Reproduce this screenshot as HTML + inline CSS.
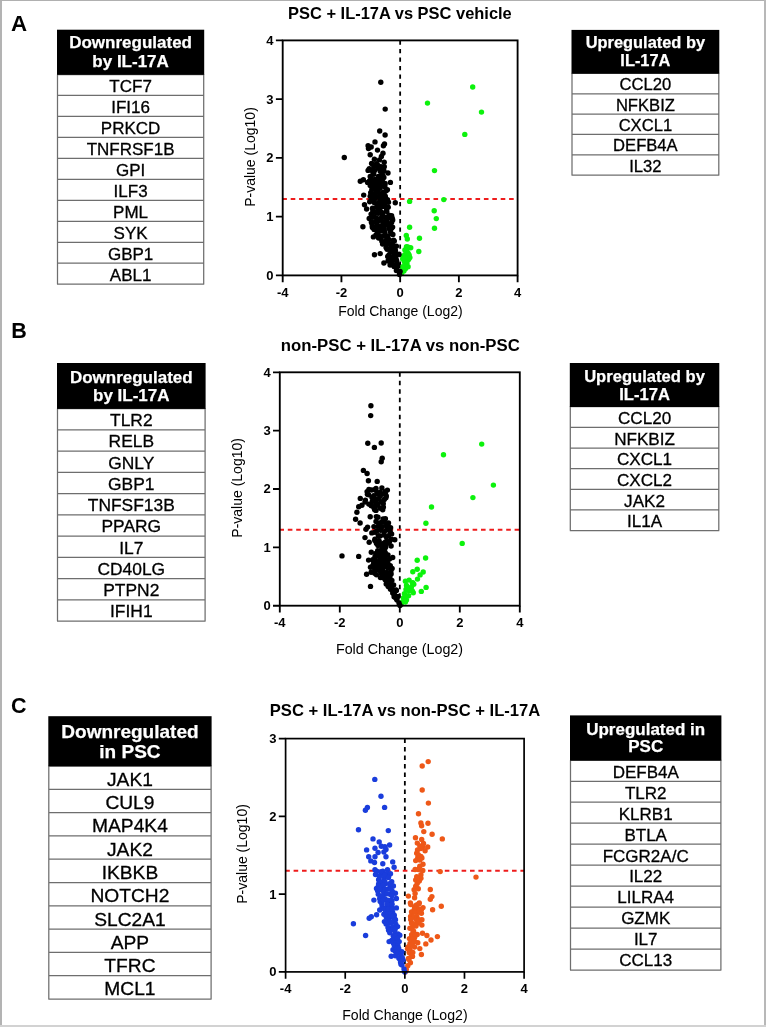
<!DOCTYPE html>
<html><head><meta charset="utf-8"><style>
html,body{margin:0;padding:0;background:#fff;}
svg{display:block;filter:blur(0.35px);}
text{font-family:"Liberation Sans", sans-serif;}
.t{stroke:#000;stroke-width:0.3px;}
.w{stroke:#fff;stroke-width:0.25px;}
</style></head><body>
<svg width="766" height="1027" viewBox="0 0 766 1027" font-family='"Liberation Sans", sans-serif'>
<rect x="0" y="0" width="766" height="1027" fill="#ffffff"/>
<rect x="0" y="0" width="2" height="1027" fill="#b3b3b3"/>
<rect x="0" y="0" width="766" height="1" fill="#b0b0b0"/>
<rect x="764" y="0" width="2" height="1027" fill="#b8b8b8"/>
<rect x="0" y="1025" width="766" height="2" fill="#d2d2d2"/>
<text x="10.9" y="30.6" font-size="22.3" font-weight="bold">A</text>
<text x="11.2" y="338.4" font-size="21.5" font-weight="bold">B</text>
<text x="11.0" y="712.6" font-size="21.5" font-weight="bold">C</text>
<path d="M57.0 74.50H204.2 M57.0 95.47H204.2 M57.0 116.44H204.2 M57.0 137.41H204.2 M57.0 158.38H204.2 M57.0 179.35H204.2 M57.0 200.32H204.2 M57.0 221.29H204.2 M57.0 242.26H204.2 M57.0 263.23H204.2 M57.0 284.20H204.2 M57.5 74.5V284.20M203.7 74.5V284.20" stroke="#6e6e6e" stroke-width="1.25" fill="none"/>
<rect x="57.0" y="29.7" width="147.2" height="45.10" fill="#000"/>
<text x="130.6" y="48.3" font-size="17" font-weight="bold" fill="#fff" class="w" text-anchor="middle">Downregulated</text>
<text x="130.6" y="67.0" font-size="17" font-weight="bold" fill="#fff" class="w" text-anchor="middle">by IL-17A</text>
<text class="t" x="130.6" y="91.83" font-size="17" text-anchor="middle">TCF7</text>
<text class="t" x="130.6" y="112.80" font-size="17" text-anchor="middle">IFI16</text>
<text class="t" x="130.6" y="133.77" font-size="17" text-anchor="middle">PRKCD</text>
<text class="t" x="130.6" y="154.74" font-size="17" text-anchor="middle">TNFRSF1B</text>
<text class="t" x="130.6" y="175.71" font-size="17" text-anchor="middle">GPI</text>
<text class="t" x="130.6" y="196.68" font-size="17" text-anchor="middle">ILF3</text>
<text class="t" x="130.6" y="217.65" font-size="17" text-anchor="middle">PML</text>
<text class="t" x="130.6" y="238.62" font-size="17" text-anchor="middle">SYK</text>
<text class="t" x="130.6" y="259.59" font-size="17" text-anchor="middle">GBP1</text>
<text class="t" x="130.6" y="280.56" font-size="17" text-anchor="middle">ABL1</text>
<path d="M571.5 73.40H719.3 M571.5 93.75H719.3 M571.5 114.10H719.3 M571.5 134.45H719.3 M571.5 154.80H719.3 M571.5 175.15H719.3 M572.0 73.4V175.15M718.8 73.4V175.15" stroke="#6e6e6e" stroke-width="1.25" fill="none"/>
<rect x="571.5" y="29.9" width="147.79999999999995" height="43.80" fill="#000"/>
<text x="645.4" y="47.5" font-size="16.4" font-weight="bold" fill="#fff" class="w" text-anchor="middle">Upregulated by</text>
<text x="645.4" y="66.0" font-size="16.4" font-weight="bold" fill="#fff" class="w" text-anchor="middle">IL-17A</text>
<text class="t" x="645.4" y="90.29" font-size="16.6" text-anchor="middle">CCL20</text>
<text class="t" x="645.4" y="110.64" font-size="16.6" text-anchor="middle">NFKBIZ</text>
<text class="t" x="645.4" y="130.99" font-size="16.6" text-anchor="middle">CXCL1</text>
<text class="t" x="645.4" y="151.34" font-size="16.6" text-anchor="middle">DEFB4A</text>
<text class="t" x="645.4" y="171.69" font-size="16.6" text-anchor="middle">IL32</text>
<path d="M57.0 408.60H205.6 M57.0 429.84H205.6 M57.0 451.08H205.6 M57.0 472.32H205.6 M57.0 493.56H205.6 M57.0 514.80H205.6 M57.0 536.04H205.6 M57.0 557.28H205.6 M57.0 578.52H205.6 M57.0 599.76H205.6 M57.0 621.00H205.6 M57.5 408.6V621.00M205.1 408.6V621.00" stroke="#6e6e6e" stroke-width="1.25" fill="none"/>
<rect x="57.0" y="363.0" width="148.6" height="45.90" fill="#000"/>
<text x="131.3" y="382.7" font-size="17" font-weight="bold" fill="#fff" class="w" text-anchor="middle">Downregulated</text>
<text x="131.3" y="400.9" font-size="17" font-weight="bold" fill="#fff" class="w" text-anchor="middle">by IL-17A</text>
<text class="t" x="131.3" y="426.21" font-size="17.4" text-anchor="middle">TLR2</text>
<text class="t" x="131.3" y="447.45" font-size="17.4" text-anchor="middle">RELB</text>
<text class="t" x="131.3" y="468.69" font-size="17.4" text-anchor="middle">GNLY</text>
<text class="t" x="131.3" y="489.93" font-size="17.4" text-anchor="middle">GBP1</text>
<text class="t" x="131.3" y="511.17" font-size="17.4" text-anchor="middle">TNFSF13B</text>
<text class="t" x="131.3" y="532.41" font-size="17.4" text-anchor="middle">PPARG</text>
<text class="t" x="131.3" y="553.65" font-size="17.4" text-anchor="middle">IL7</text>
<text class="t" x="131.3" y="574.89" font-size="17.4" text-anchor="middle">CD40LG</text>
<text class="t" x="131.3" y="596.13" font-size="17.4" text-anchor="middle">PTPN2</text>
<text class="t" x="131.3" y="617.37" font-size="17.4" text-anchor="middle">IFIH1</text>
<path d="M569.8 406.70H719.3 M569.8 427.35H719.3 M569.8 448.00H719.3 M569.8 468.65H719.3 M569.8 489.30H719.3 M569.8 509.95H719.3 M569.8 530.60H719.3 M570.3 406.7V530.60M718.8 406.7V530.60" stroke="#6e6e6e" stroke-width="1.25" fill="none"/>
<rect x="569.8" y="363.0" width="149.5" height="44.00" fill="#000"/>
<text x="644.55" y="381.5" font-size="16.6" font-weight="bold" fill="#fff" class="w" text-anchor="middle">Upregulated by</text>
<text x="644.55" y="400.0" font-size="16.6" font-weight="bold" fill="#fff" class="w" text-anchor="middle">IL-17A</text>
<text class="t" x="644.55" y="423.91" font-size="17.1" text-anchor="middle">CCL20</text>
<text class="t" x="644.55" y="444.56" font-size="17.1" text-anchor="middle">NFKBIZ</text>
<text class="t" x="644.55" y="465.21" font-size="17.1" text-anchor="middle">CXCL1</text>
<text class="t" x="644.55" y="485.86" font-size="17.1" text-anchor="middle">CXCL2</text>
<text class="t" x="644.55" y="506.51" font-size="17.1" text-anchor="middle">JAK2</text>
<text class="t" x="644.55" y="527.16" font-size="17.1" text-anchor="middle">IL1A</text>
<path d="M48.3 766.00H211.6 M48.3 789.30H211.6 M48.3 812.60H211.6 M48.3 835.90H211.6 M48.3 859.20H211.6 M48.3 882.50H211.6 M48.3 905.80H211.6 M48.3 929.10H211.6 M48.3 952.40H211.6 M48.3 975.70H211.6 M48.3 999.00H211.6 M48.8 766.0V999.00M211.1 766.0V999.00" stroke="#6e6e6e" stroke-width="1.25" fill="none"/>
<rect x="48.3" y="716.2" width="163.3" height="50.10" fill="#000"/>
<text x="129.95" y="737.6" font-size="19" font-weight="bold" fill="#fff" class="w" text-anchor="middle">Downregulated</text>
<text x="129.95" y="758.0" font-size="19" font-weight="bold" fill="#fff" class="w" text-anchor="middle">in PSC</text>
<text class="t" x="129.95" y="785.75" font-size="19.2" text-anchor="middle">JAK1</text>
<text class="t" x="129.95" y="809.05" font-size="19.2" text-anchor="middle">CUL9</text>
<text class="t" x="129.95" y="832.35" font-size="19.2" text-anchor="middle">MAP4K4</text>
<text class="t" x="129.95" y="855.65" font-size="19.2" text-anchor="middle">JAK2</text>
<text class="t" x="129.95" y="878.95" font-size="19.2" text-anchor="middle">IKBKB</text>
<text class="t" x="129.95" y="902.25" font-size="19.2" text-anchor="middle">NOTCH2</text>
<text class="t" x="129.95" y="925.55" font-size="19.2" text-anchor="middle">SLC2A1</text>
<text class="t" x="129.95" y="948.85" font-size="19.2" text-anchor="middle">APP</text>
<text class="t" x="129.95" y="972.15" font-size="19.2" text-anchor="middle">TFRC</text>
<text class="t" x="129.95" y="995.45" font-size="19.2" text-anchor="middle">MCL1</text>
<path d="M570.0 760.30H721.4 M570.0 781.27H721.4 M570.0 802.24H721.4 M570.0 823.21H721.4 M570.0 844.18H721.4 M570.0 865.15H721.4 M570.0 886.12H721.4 M570.0 907.09H721.4 M570.0 928.06H721.4 M570.0 949.03H721.4 M570.0 970.00H721.4 M570.5 760.3V970.00M720.9 760.3V970.00" stroke="#6e6e6e" stroke-width="1.25" fill="none"/>
<rect x="570.0" y="715.4" width="151.39999999999998" height="45.20" fill="#000"/>
<text x="645.7" y="734.5" font-size="17" font-weight="bold" fill="#fff" class="w" text-anchor="middle">Upregulated in</text>
<text x="645.7" y="752.0" font-size="17" font-weight="bold" fill="#fff" class="w" text-anchor="middle">PSC</text>
<text class="t" x="645.7" y="777.63" font-size="17" text-anchor="middle">DEFB4A</text>
<text class="t" x="645.7" y="798.60" font-size="17" text-anchor="middle">TLR2</text>
<text class="t" x="645.7" y="819.57" font-size="17" text-anchor="middle">KLRB1</text>
<text class="t" x="645.7" y="840.54" font-size="17" text-anchor="middle">BTLA</text>
<text class="t" x="645.7" y="861.51" font-size="17" text-anchor="middle">FCGR2A/C</text>
<text class="t" x="645.7" y="882.48" font-size="17" text-anchor="middle">IL22</text>
<text class="t" x="645.7" y="903.45" font-size="17" text-anchor="middle">LILRA4</text>
<text class="t" x="645.7" y="924.42" font-size="17" text-anchor="middle">GZMK</text>
<text class="t" x="645.7" y="945.39" font-size="17" text-anchor="middle">IL7</text>
<text class="t" x="645.7" y="966.36" font-size="17" text-anchor="middle">CCL13</text>
<path d="M400.15 40.4V275.4" stroke="#000" stroke-width="1.8" stroke-dasharray="4.4 4.1" fill="none"/>
<path d="M282.7 199.02H517.6" stroke="#ee1c1c" stroke-width="2" stroke-dasharray="4.6 3.8" stroke-dashoffset="0.4" fill="none"/>
<g fill="#0cf20c"><circle cx="472.7" cy="87.0" r="2.7"/><circle cx="481.5" cy="112.1" r="2.7"/><circle cx="464.8" cy="134.4" r="2.7"/><circle cx="427.5" cy="103.1" r="2.7"/><circle cx="434.5" cy="170.6" r="2.7"/><circle cx="409.6" cy="201.4" r="2.7"/><circle cx="443.8" cy="199.6" r="2.7"/><circle cx="434.2" cy="210.8" r="2.7"/><circle cx="436.3" cy="218.6" r="2.7"/><circle cx="434.5" cy="228.2" r="2.7"/><circle cx="409.6" cy="227.2" r="2.7"/><circle cx="406.3" cy="235.4" r="2.7"/><circle cx="407.3" cy="239.0" r="2.7"/><circle cx="419.5" cy="238.2" r="2.7"/><circle cx="418.8" cy="251.5" r="2.7"/><circle cx="406.5" cy="246.8" r="2.7"/><circle cx="410.7" cy="247.7" r="2.7"/><circle cx="404.9" cy="250.0" r="2.7"/><circle cx="408.1" cy="253.1" r="2.7"/><circle cx="403.4" cy="256.2" r="2.7"/><circle cx="408.6" cy="259.4" r="2.7"/><circle cx="404.4" cy="261.5" r="2.7"/><circle cx="408.1" cy="266.7" r="2.7"/><circle cx="402.8" cy="266.7" r="2.7"/><circle cx="403.9" cy="270.9" r="2.7"/><circle cx="401.8" cy="273.0" r="2.7"/><circle cx="405.4" cy="268.8" r="2.7"/><circle cx="406.8" cy="250.5" r="2.7"/><circle cx="404.8" cy="254.7" r="2.7"/><circle cx="408.9" cy="254.7" r="2.7"/><circle cx="402.7" cy="258.9" r="2.7"/><circle cx="407.8" cy="247.0" r="2.7"/><circle cx="405.9" cy="250.2" r="2.7"/><circle cx="409.0" cy="255.5" r="2.7"/><circle cx="404.6" cy="258.1" r="2.7"/><circle cx="409.9" cy="257.6" r="2.7"/><circle cx="404.7" cy="261.9" r="2.7"/><circle cx="407.0" cy="262.9" r="2.7"/><circle cx="405.6" cy="265.9" r="2.7"/><circle cx="402.8" cy="268.3" r="2.7"/></g>
<g fill="#000000"><circle cx="380.8" cy="82.3" r="2.7"/><circle cx="385.2" cy="109.1" r="2.7"/><circle cx="379.7" cy="131.0" r="2.7"/><circle cx="385.1" cy="135.0" r="2.7"/><circle cx="375.0" cy="141.9" r="2.7"/><circle cx="368.1" cy="145.8" r="2.7"/><circle cx="371.2" cy="147.0" r="2.7"/><circle cx="368.5" cy="148.6" r="2.7"/><circle cx="384.5" cy="143.9" r="2.7"/><circle cx="383.4" cy="145.8" r="2.7"/><circle cx="377.5" cy="150.1" r="2.7"/><circle cx="370.2" cy="154.8" r="2.7"/><circle cx="383.0" cy="153.3" r="2.7"/><circle cx="381.4" cy="156.4" r="2.7"/><circle cx="374.4" cy="159.2" r="2.7"/><circle cx="379.5" cy="159.9" r="2.7"/><circle cx="384.2" cy="162.3" r="2.7"/><circle cx="371.6" cy="163.5" r="2.7"/><circle cx="344.3" cy="157.5" r="2.7"/><circle cx="376.5" cy="163.6" r="2.7"/><circle cx="384.3" cy="166.7" r="2.7"/><circle cx="368.1" cy="170.4" r="2.7"/><circle cx="372.8" cy="171.9" r="2.7"/><circle cx="380.1" cy="170.9" r="2.7"/><circle cx="388.0" cy="173.0" r="2.7"/><circle cx="381.2" cy="176.1" r="2.7"/><circle cx="360.3" cy="181.3" r="2.7"/><circle cx="363.4" cy="179.8" r="2.7"/><circle cx="367.6" cy="182.4" r="2.7"/><circle cx="371.8" cy="180.8" r="2.7"/><circle cx="382.2" cy="180.3" r="2.7"/><circle cx="390.4" cy="182.4" r="2.7"/><circle cx="370.2" cy="185.5" r="2.7"/><circle cx="376.0" cy="184.5" r="2.7"/><circle cx="380.1" cy="185.5" r="2.7"/><circle cx="384.3" cy="186.6" r="2.7"/><circle cx="371.8" cy="189.7" r="2.7"/><circle cx="378.0" cy="189.7" r="2.7"/><circle cx="387.4" cy="189.7" r="2.7"/><circle cx="374.9" cy="193.9" r="2.7"/><circle cx="382.2" cy="193.9" r="2.7"/><circle cx="363.7" cy="195.1" r="2.7"/><circle cx="372.8" cy="198.0" r="2.7"/><circle cx="378.0" cy="197.0" r="2.7"/><circle cx="385.4" cy="197.0" r="2.7"/><circle cx="369.7" cy="201.7" r="2.7"/><circle cx="379.1" cy="202.2" r="2.7"/><circle cx="383.3" cy="200.1" r="2.7"/><circle cx="388.5" cy="202.2" r="2.7"/><circle cx="395.3" cy="202.7" r="2.7"/><circle cx="364.5" cy="204.8" r="2.7"/><circle cx="366.6" cy="209.0" r="2.7"/><circle cx="380.1" cy="206.4" r="2.7"/><circle cx="385.4" cy="206.4" r="2.7"/><circle cx="379.1" cy="210.6" r="2.7"/><circle cx="386.4" cy="210.6" r="2.7"/><circle cx="372.8" cy="212.1" r="2.7"/><circle cx="382.2" cy="213.7" r="2.7"/><circle cx="391.6" cy="215.8" r="2.7"/><circle cx="369.2" cy="218.4" r="2.7"/><circle cx="373.9" cy="216.8" r="2.7"/><circle cx="380.1" cy="218.9" r="2.7"/><circle cx="386.4" cy="217.9" r="2.7"/><circle cx="392.7" cy="220.0" r="2.7"/><circle cx="371.8" cy="223.1" r="2.7"/><circle cx="377.0" cy="223.1" r="2.7"/><circle cx="383.3" cy="223.1" r="2.7"/><circle cx="389.5" cy="224.2" r="2.7"/><circle cx="362.9" cy="226.8" r="2.7"/><circle cx="374.9" cy="227.3" r="2.7"/><circle cx="382.2" cy="227.8" r="2.7"/><circle cx="391.6" cy="228.3" r="2.7"/><circle cx="381.8" cy="217.1" r="2.7"/><circle cx="388.0" cy="217.1" r="2.7"/><circle cx="392.2" cy="218.1" r="2.7"/><circle cx="377.6" cy="231.2" r="2.7"/><circle cx="383.9" cy="228.6" r="2.7"/><circle cx="390.1" cy="229.6" r="2.7"/><circle cx="373.4" cy="236.9" r="2.7"/><circle cx="378.6" cy="238.0" r="2.7"/><circle cx="384.9" cy="235.9" r="2.7"/><circle cx="391.2" cy="233.8" r="2.7"/><circle cx="381.8" cy="241.1" r="2.7"/><circle cx="388.0" cy="240.1" r="2.7"/><circle cx="394.3" cy="241.1" r="2.7"/><circle cx="386.0" cy="244.2" r="2.7"/><circle cx="392.2" cy="245.3" r="2.7"/><circle cx="396.4" cy="246.3" r="2.7"/><circle cx="390.1" cy="249.5" r="2.7"/><circle cx="395.4" cy="250.5" r="2.7"/><circle cx="389.1" cy="254.7" r="2.7"/><circle cx="394.3" cy="254.7" r="2.7"/><circle cx="399.0" cy="254.2" r="2.7"/><circle cx="383.9" cy="263.0" r="2.7"/><circle cx="388.0" cy="261.0" r="2.7"/><circle cx="392.2" cy="258.9" r="2.7"/><circle cx="396.4" cy="259.9" r="2.7"/><circle cx="390.1" cy="265.1" r="2.7"/><circle cx="394.3" cy="266.2" r="2.7"/><circle cx="397.4" cy="264.1" r="2.7"/><circle cx="396.9" cy="270.4" r="2.7"/><circle cx="400.1" cy="271.4" r="2.7"/><circle cx="399.5" cy="274.5" r="2.7"/><circle cx="392.2" cy="263.0" r="2.7"/><circle cx="374.5" cy="254.7" r="2.7"/><circle cx="380.2" cy="253.6" r="2.7"/><circle cx="378.1" cy="165.4" r="2.7"/><circle cx="369.3" cy="168.7" r="2.7"/><circle cx="373.8" cy="166.8" r="2.7"/><circle cx="378.2" cy="168.3" r="2.7"/><circle cx="381.0" cy="166.7" r="2.7"/><circle cx="372.4" cy="170.5" r="2.7"/><circle cx="374.4" cy="170.8" r="2.7"/><circle cx="380.8" cy="171.4" r="2.7"/><circle cx="384.0" cy="171.0" r="2.7"/><circle cx="370.2" cy="176.5" r="2.7"/><circle cx="373.8" cy="174.2" r="2.7"/><circle cx="378.5" cy="176.5" r="2.7"/><circle cx="382.7" cy="175.3" r="2.7"/><circle cx="371.0" cy="177.7" r="2.7"/><circle cx="374.8" cy="179.5" r="2.7"/><circle cx="380.5" cy="177.4" r="2.7"/><circle cx="383.9" cy="177.4" r="2.7"/><circle cx="369.5" cy="180.9" r="2.7"/><circle cx="372.5" cy="182.0" r="2.7"/><circle cx="377.8" cy="181.3" r="2.7"/><circle cx="380.3" cy="183.3" r="2.7"/><circle cx="385.1" cy="183.5" r="2.7"/><circle cx="372.5" cy="185.8" r="2.7"/><circle cx="375.2" cy="186.4" r="2.7"/><circle cx="378.8" cy="185.2" r="2.7"/><circle cx="384.9" cy="185.9" r="2.7"/><circle cx="373.9" cy="188.9" r="2.7"/><circle cx="378.0" cy="190.0" r="2.7"/><circle cx="380.2" cy="188.1" r="2.7"/><circle cx="386.1" cy="190.7" r="2.7"/><circle cx="370.7" cy="192.6" r="2.7"/><circle cx="376.2" cy="191.6" r="2.7"/><circle cx="379.7" cy="193.6" r="2.7"/><circle cx="383.1" cy="192.1" r="2.7"/><circle cx="370.2" cy="196.3" r="2.7"/><circle cx="374.3" cy="195.5" r="2.7"/><circle cx="377.0" cy="196.9" r="2.7"/><circle cx="382.6" cy="196.3" r="2.7"/><circle cx="384.9" cy="195.4" r="2.7"/><circle cx="372.2" cy="199.6" r="2.7"/><circle cx="374.4" cy="199.4" r="2.7"/><circle cx="380.3" cy="199.4" r="2.7"/><circle cx="383.2" cy="199.8" r="2.7"/><circle cx="387.5" cy="199.8" r="2.7"/><circle cx="374.5" cy="202.8" r="2.7"/><circle cx="378.1" cy="204.5" r="2.7"/><circle cx="382.0" cy="203.6" r="2.7"/><circle cx="385.1" cy="203.1" r="2.7"/><circle cx="372.5" cy="208.2" r="2.7"/><circle cx="376.5" cy="207.3" r="2.7"/><circle cx="378.1" cy="207.8" r="2.7"/><circle cx="382.7" cy="206.5" r="2.7"/><circle cx="388.2" cy="207.2" r="2.7"/><circle cx="372.9" cy="209.8" r="2.7"/><circle cx="377.5" cy="211.5" r="2.7"/><circle cx="380.6" cy="211.5" r="2.7"/><circle cx="386.8" cy="211.5" r="2.7"/><circle cx="371.1" cy="214.1" r="2.7"/><circle cx="376.2" cy="212.8" r="2.7"/><circle cx="378.3" cy="213.2" r="2.7"/><circle cx="382.5" cy="213.0" r="2.7"/><circle cx="389.0" cy="215.2" r="2.7"/><circle cx="372.5" cy="217.3" r="2.7"/><circle cx="376.4" cy="217.9" r="2.7"/><circle cx="382.2" cy="217.4" r="2.7"/><circle cx="384.5" cy="216.9" r="2.7"/><circle cx="389.4" cy="218.1" r="2.7"/><circle cx="371.3" cy="221.9" r="2.7"/><circle cx="375.2" cy="221.9" r="2.7"/><circle cx="379.4" cy="220.6" r="2.7"/><circle cx="383.7" cy="221.9" r="2.7"/><circle cx="386.5" cy="221.1" r="2.7"/><circle cx="391.6" cy="222.4" r="2.7"/><circle cx="372.3" cy="225.7" r="2.7"/><circle cx="377.9" cy="225.9" r="2.7"/><circle cx="382.4" cy="225.3" r="2.7"/><circle cx="386.3" cy="225.0" r="2.7"/><circle cx="388.6" cy="225.1" r="2.7"/><circle cx="372.4" cy="227.5" r="2.7"/><circle cx="374.1" cy="229.4" r="2.7"/><circle cx="378.4" cy="229.4" r="2.7"/><circle cx="384.1" cy="229.4" r="2.7"/><circle cx="389.0" cy="228.6" r="2.7"/><circle cx="392.6" cy="227.1" r="2.7"/><circle cx="377.6" cy="232.9" r="2.7"/><circle cx="380.8" cy="231.1" r="2.7"/><circle cx="384.9" cy="232.3" r="2.7"/><circle cx="390.5" cy="231.7" r="2.7"/><circle cx="376.1" cy="234.6" r="2.7"/><circle cx="380.0" cy="236.2" r="2.7"/><circle cx="384.1" cy="235.6" r="2.7"/><circle cx="387.7" cy="235.9" r="2.7"/><circle cx="392.9" cy="234.5" r="2.7"/><circle cx="381.0" cy="238.3" r="2.7"/><circle cx="386.2" cy="240.3" r="2.7"/><circle cx="389.2" cy="239.6" r="2.7"/><circle cx="393.6" cy="240.1" r="2.7"/><circle cx="382.6" cy="244.0" r="2.7"/><circle cx="387.6" cy="242.9" r="2.7"/><circle cx="391.7" cy="243.6" r="2.7"/><circle cx="386.1" cy="247.4" r="2.7"/><circle cx="390.7" cy="245.4" r="2.7"/><circle cx="393.0" cy="245.5" r="2.7"/><circle cx="387.1" cy="249.3" r="2.7"/><circle cx="392.0" cy="250.2" r="2.7"/><circle cx="394.5" cy="249.3" r="2.7"/><circle cx="390.9" cy="252.1" r="2.7"/><circle cx="395.1" cy="252.9" r="2.7"/><circle cx="387.7" cy="256.4" r="2.7"/><circle cx="392.4" cy="257.3" r="2.7"/><circle cx="396.1" cy="255.9" r="2.7"/><circle cx="390.2" cy="260.2" r="2.7"/><circle cx="393.3" cy="259.5" r="2.7"/><circle cx="396.7" cy="261.0" r="2.7"/><circle cx="391.3" cy="263.6" r="2.7"/><circle cx="396.0" cy="264.7" r="2.7"/><circle cx="394.1" cy="266.5" r="2.7"/><circle cx="397.7" cy="266.6" r="2.7"/><circle cx="396.4" cy="270.5" r="2.7"/></g>
<rect x="282.7" y="40.4" width="234.90000000000003" height="234.99999999999997" fill="none" stroke="#000" stroke-width="1.85"/>
<path d="M282.70 275.4v6.8 M341.43 275.4v6.8 M400.15 275.4v6.8 M458.88 275.4v6.8 M517.60 275.4v6.8 M282.7 275.40h-6.8 M282.7 216.65h-6.8 M282.7 157.90h-6.8 M282.7 99.15h-6.8 M282.7 40.40h-6.8" stroke="#000" stroke-width="1.85" fill="none"/>
<text x="282.70" y="296.60" font-size="13" font-weight="bold" text-anchor="middle">-4</text>
<text x="341.43" y="296.60" font-size="13" font-weight="bold" text-anchor="middle">-2</text>
<text x="400.15" y="296.60" font-size="13" font-weight="bold" text-anchor="middle">0</text>
<text x="458.88" y="296.60" font-size="13" font-weight="bold" text-anchor="middle">2</text>
<text x="517.60" y="296.60" font-size="13" font-weight="bold" text-anchor="middle">4</text>
<text x="273.60" y="279.80" font-size="13" font-weight="bold" text-anchor="end">0</text>
<text x="273.60" y="221.05" font-size="13" font-weight="bold" text-anchor="end">1</text>
<text x="273.60" y="162.30" font-size="13" font-weight="bold" text-anchor="end">2</text>
<text x="273.60" y="103.55" font-size="13" font-weight="bold" text-anchor="end">3</text>
<text x="273.60" y="44.80" font-size="13" font-weight="bold" text-anchor="end">4</text>
<text x="400.40" y="316.40" font-size="14" text-anchor="middle">Fold Change (Log2)</text>
<text transform="translate(255.00 157.00) rotate(-90)" font-size="14" text-anchor="middle">P-value (Log10)</text>
<text x="399.9" y="18.5" font-size="16.45" font-weight="bold" text-anchor="middle">PSC + IL-17A vs PSC vehicle</text>
<path d="M399.80 372.3V605.7" stroke="#000" stroke-width="1.8" stroke-dasharray="4.4 4.1" fill="none"/>
<path d="M279.8 529.85H519.8" stroke="#ee1c1c" stroke-width="2" stroke-dasharray="4.6 3.8" stroke-dashoffset="0.4" fill="none"/>
<g fill="#0cf20c"><circle cx="462.2" cy="543.4" r="2.7"/><circle cx="425.6" cy="558.0" r="2.7"/><circle cx="417.2" cy="560.3" r="2.7"/><circle cx="417.2" cy="569.2" r="2.7"/><circle cx="412.8" cy="571.8" r="2.7"/><circle cx="423.2" cy="572.0" r="2.7"/><circle cx="420.1" cy="574.9" r="2.7"/><circle cx="417.5" cy="579.1" r="2.7"/><circle cx="405.4" cy="581.2" r="2.7"/><circle cx="409.1" cy="580.1" r="2.7"/><circle cx="412.8" cy="582.7" r="2.7"/><circle cx="413.8" cy="584.3" r="2.7"/><circle cx="426.1" cy="587.4" r="2.7"/><circle cx="421.3" cy="591.4" r="2.7"/><circle cx="406.0" cy="589.5" r="2.7"/><circle cx="409.6" cy="590.6" r="2.7"/><circle cx="413.3" cy="592.7" r="2.7"/><circle cx="404.4" cy="593.7" r="2.7"/><circle cx="408.6" cy="595.8" r="2.7"/><circle cx="403.4" cy="597.9" r="2.7"/><circle cx="406.5" cy="600.0" r="2.7"/><circle cx="402.3" cy="602.1" r="2.7"/><circle cx="405.4" cy="602.1" r="2.7"/><circle cx="401.3" cy="604.2" r="2.7"/><circle cx="410.7" cy="588.5" r="2.7"/><circle cx="406.5" cy="585.4" r="2.7"/><circle cx="481.7" cy="444.1" r="2.7"/><circle cx="443.5" cy="454.8" r="2.7"/><circle cx="493.4" cy="485.1" r="2.7"/><circle cx="472.9" cy="497.6" r="2.7"/><circle cx="431.5" cy="507.0" r="2.7"/><circle cx="425.9" cy="523.3" r="2.7"/><circle cx="412.4" cy="583.1" r="2.7"/><circle cx="407.3" cy="587.9" r="2.7"/><circle cx="411.4" cy="587.0" r="2.7"/><circle cx="407.7" cy="590.3" r="2.7"/><circle cx="412.3" cy="590.9" r="2.7"/><circle cx="406.0" cy="595.7" r="2.7"/><circle cx="404.8" cy="600.9" r="2.7"/></g>
<g fill="#000000"><circle cx="370.9" cy="405.8" r="2.7"/><circle cx="370.7" cy="415.6" r="2.7"/><circle cx="367.8" cy="443.3" r="2.7"/><circle cx="374.4" cy="447.4" r="2.7"/><circle cx="381.2" cy="443.0" r="2.7"/><circle cx="382.2" cy="458.2" r="2.7"/><circle cx="381.2" cy="461.8" r="2.7"/><circle cx="363.4" cy="470.4" r="2.7"/><circle cx="367.1" cy="473.5" r="2.7"/><circle cx="368.4" cy="480.7" r="2.7"/><circle cx="377.2" cy="481.4" r="2.7"/><circle cx="368.9" cy="489.5" r="2.7"/><circle cx="367.1" cy="491.6" r="2.7"/><circle cx="368.6" cy="494.8" r="2.7"/><circle cx="376.0" cy="488.5" r="2.7"/><circle cx="381.9" cy="488.0" r="2.7"/><circle cx="387.4" cy="490.1" r="2.7"/><circle cx="385.4" cy="493.7" r="2.7"/><circle cx="377.0" cy="492.7" r="2.7"/><circle cx="380.1" cy="496.3" r="2.7"/><circle cx="384.3" cy="499.5" r="2.7"/><circle cx="375.4" cy="498.9" r="2.7"/><circle cx="360.3" cy="498.4" r="2.7"/><circle cx="365.0" cy="502.1" r="2.7"/><circle cx="361.9" cy="505.2" r="2.7"/><circle cx="358.7" cy="506.8" r="2.7"/><circle cx="371.3" cy="505.2" r="2.7"/><circle cx="373.9" cy="507.8" r="2.7"/><circle cx="378.0" cy="504.7" r="2.7"/><circle cx="383.3" cy="503.6" r="2.7"/><circle cx="376.0" cy="510.4" r="2.7"/><circle cx="382.7" cy="509.7" r="2.7"/><circle cx="356.9" cy="512.2" r="2.7"/><circle cx="370.2" cy="516.7" r="2.7"/><circle cx="378.0" cy="517.2" r="2.7"/><circle cx="385.4" cy="518.8" r="2.7"/><circle cx="355.6" cy="519.3" r="2.7"/><circle cx="360.1" cy="523.0" r="2.7"/><circle cx="376.0" cy="521.4" r="2.7"/><circle cx="382.2" cy="521.9" r="2.7"/><circle cx="388.5" cy="523.0" r="2.7"/><circle cx="367.6" cy="527.1" r="2.7"/><circle cx="373.9" cy="526.6" r="2.7"/><circle cx="379.1" cy="525.6" r="2.7"/><circle cx="386.4" cy="526.1" r="2.7"/><circle cx="390.6" cy="527.7" r="2.7"/><circle cx="366.0" cy="529.2" r="2.7"/><circle cx="371.8" cy="532.9" r="2.7"/><circle cx="377.0" cy="530.8" r="2.7"/><circle cx="384.3" cy="531.8" r="2.7"/><circle cx="391.6" cy="533.9" r="2.7"/><circle cx="380.1" cy="536.0" r="2.7"/><circle cx="386.4" cy="537.1" r="2.7"/><circle cx="365.0" cy="537.6" r="2.7"/><circle cx="374.9" cy="539.2" r="2.7"/><circle cx="394.8" cy="539.7" r="2.7"/><circle cx="369.2" cy="542.3" r="2.7"/><circle cx="379.1" cy="541.2" r="2.7"/><circle cx="389.5" cy="541.8" r="2.7"/><circle cx="384.3" cy="544.4" r="2.7"/><circle cx="342.0" cy="555.9" r="2.7"/><circle cx="358.7" cy="556.4" r="2.7"/><circle cx="370.5" cy="586.4" r="2.7"/><circle cx="391.1" cy="546.0" r="2.7"/><circle cx="392.7" cy="557.5" r="2.7"/><circle cx="366.6" cy="574.2" r="2.7"/><circle cx="368.6" cy="560.1" r="2.7"/><circle cx="371.3" cy="552.2" r="2.7"/><circle cx="397" cy="600" r="2.7"/><circle cx="399" cy="603" r="2.7"/><circle cx="400" cy="605.5" r="2.7"/><circle cx="395" cy="597" r="2.7"/><circle cx="398" cy="596.5" r="2.7"/><circle cx="393" cy="593" r="2.7"/><circle cx="396" cy="590" r="2.7"/><circle cx="392" cy="588" r="2.7"/><circle cx="378.0" cy="541.1" r="2.7"/><circle cx="387.6" cy="541.1" r="2.7"/><circle cx="376.9" cy="543.6" r="2.7"/><circle cx="379.8" cy="543.8" r="2.7"/><circle cx="384.2" cy="542.9" r="2.7"/><circle cx="378.0" cy="545.4" r="2.7"/><circle cx="382.0" cy="547.5" r="2.7"/><circle cx="385.7" cy="547.1" r="2.7"/><circle cx="377.7" cy="550.6" r="2.7"/><circle cx="380.6" cy="550.6" r="2.7"/><circle cx="384.7" cy="549.1" r="2.7"/><circle cx="375.8" cy="553.5" r="2.7"/><circle cx="379.1" cy="552.5" r="2.7"/><circle cx="381.7" cy="553.7" r="2.7"/><circle cx="385.3" cy="552.7" r="2.7"/><circle cx="375.0" cy="556.7" r="2.7"/><circle cx="378.5" cy="555.7" r="2.7"/><circle cx="381.0" cy="556.4" r="2.7"/><circle cx="384.5" cy="555.3" r="2.7"/><circle cx="388.0" cy="555.0" r="2.7"/><circle cx="372.7" cy="559.8" r="2.7"/><circle cx="375.3" cy="559.6" r="2.7"/><circle cx="379.9" cy="559.4" r="2.7"/><circle cx="383.2" cy="559.5" r="2.7"/><circle cx="386.1" cy="559.4" r="2.7"/><circle cx="389.5" cy="558.9" r="2.7"/><circle cx="373.7" cy="562.8" r="2.7"/><circle cx="377.8" cy="562.8" r="2.7"/><circle cx="380.6" cy="562.4" r="2.7"/><circle cx="385.2" cy="562.8" r="2.7"/><circle cx="387.8" cy="562.9" r="2.7"/><circle cx="373.0" cy="565.1" r="2.7"/><circle cx="376.1" cy="565.7" r="2.7"/><circle cx="379.8" cy="564.4" r="2.7"/><circle cx="383.5" cy="565.4" r="2.7"/><circle cx="386.8" cy="565.0" r="2.7"/><circle cx="390.3" cy="565.8" r="2.7"/><circle cx="370.5" cy="567.2" r="2.7"/><circle cx="373.7" cy="567.6" r="2.7"/><circle cx="376.3" cy="567.4" r="2.7"/><circle cx="380.6" cy="567.5" r="2.7"/><circle cx="383.9" cy="567.2" r="2.7"/><circle cx="388.1" cy="568.0" r="2.7"/><circle cx="392.1" cy="568.5" r="2.7"/><circle cx="371.1" cy="572.2" r="2.7"/><circle cx="375.3" cy="570.3" r="2.7"/><circle cx="379.5" cy="570.4" r="2.7"/><circle cx="382.9" cy="571.0" r="2.7"/><circle cx="386.6" cy="572.5" r="2.7"/><circle cx="390.8" cy="571.2" r="2.7"/><circle cx="374.7" cy="573.3" r="2.7"/><circle cx="376.5" cy="574.7" r="2.7"/><circle cx="381.3" cy="573.6" r="2.7"/><circle cx="384.9" cy="575.5" r="2.7"/><circle cx="387.9" cy="574.3" r="2.7"/><circle cx="391.1" cy="574.0" r="2.7"/><circle cx="380.4" cy="577.6" r="2.7"/><circle cx="382.3" cy="577.6" r="2.7"/><circle cx="385.5" cy="577.9" r="2.7"/><circle cx="389.9" cy="577.1" r="2.7"/><circle cx="385.2" cy="579.8" r="2.7"/><circle cx="388.8" cy="580.3" r="2.7"/><circle cx="391.9" cy="580.4" r="2.7"/><circle cx="386.2" cy="584.0" r="2.7"/><circle cx="390.5" cy="584.2" r="2.7"/><circle cx="393.6" cy="584.9" r="2.7"/><circle cx="388.2" cy="586.6" r="2.7"/><circle cx="391.0" cy="587.2" r="2.7"/><circle cx="390.5" cy="589.2" r="2.7"/><circle cx="393.1" cy="591.1" r="2.7"/><circle cx="396.4" cy="590.4" r="2.7"/><circle cx="392.9" cy="592.9" r="2.7"/><circle cx="394.3" cy="593.7" r="2.7"/><circle cx="394.1" cy="596.7" r="2.7"/><circle cx="396.2" cy="596.7" r="2.7"/><circle cx="396.2" cy="598.6" r="2.7"/><circle cx="376.3" cy="516.6" r="2.7"/><circle cx="383.1" cy="518.9" r="2.7"/><circle cx="379.5" cy="523.0" r="2.7"/><circle cx="384.3" cy="522.3" r="2.7"/><circle cx="378.1" cy="526.3" r="2.7"/><circle cx="382.1" cy="526.8" r="2.7"/><circle cx="387.8" cy="525.9" r="2.7"/><circle cx="375.0" cy="532.2" r="2.7"/><circle cx="380.8" cy="530.3" r="2.7"/><circle cx="386.8" cy="529.8" r="2.7"/><circle cx="390.2" cy="531.8" r="2.7"/><circle cx="378.3" cy="535.7" r="2.7"/><circle cx="383.9" cy="534.9" r="2.7"/><circle cx="388.5" cy="535.8" r="2.7"/><circle cx="374.8" cy="540.5" r="2.7"/><circle cx="378.7" cy="540.7" r="2.7"/><circle cx="385.8" cy="541.6" r="2.7"/><circle cx="391.5" cy="539.3" r="2.7"/><circle cx="376.4" cy="543.3" r="2.7"/><circle cx="386.7" cy="543.7" r="2.7"/><circle cx="371.6" cy="490.0" r="2.7"/><circle cx="374.7" cy="489.8" r="2.7"/><circle cx="380.1" cy="492.3" r="2.7"/><circle cx="385.0" cy="491.8" r="2.7"/><circle cx="367.4" cy="494.3" r="2.7"/><circle cx="373.7" cy="495.6" r="2.7"/><circle cx="377.6" cy="493.7" r="2.7"/><circle cx="381.7" cy="494.1" r="2.7"/><circle cx="386.3" cy="495.9" r="2.7"/><circle cx="365.4" cy="500.1" r="2.7"/><circle cx="372.0" cy="497.6" r="2.7"/><circle cx="375.1" cy="498.9" r="2.7"/><circle cx="378.7" cy="498.7" r="2.7"/><circle cx="385.9" cy="497.8" r="2.7"/><circle cx="368.8" cy="504.1" r="2.7"/><circle cx="372.3" cy="501.5" r="2.7"/><circle cx="376.6" cy="503.1" r="2.7"/><circle cx="381.0" cy="501.7" r="2.7"/><circle cx="371.3" cy="505.7" r="2.7"/><circle cx="375.7" cy="505.9" r="2.7"/><circle cx="380.4" cy="508.3" r="2.7"/><circle cx="383.4" cy="507.1" r="2.7"/><circle cx="374.7" cy="509.8" r="2.7"/></g>
<rect x="279.8" y="372.3" width="239.99999999999994" height="233.40000000000003" fill="none" stroke="#000" stroke-width="1.85"/>
<path d="M279.80 605.7v6.8 M339.80 605.7v6.8 M399.80 605.7v6.8 M459.80 605.7v6.8 M519.80 605.7v6.8 M279.8 605.70h-6.8 M279.8 547.35h-6.8 M279.8 489.00h-6.8 M279.8 430.65h-6.8 M279.8 372.30h-6.8" stroke="#000" stroke-width="1.85" fill="none"/>
<text x="279.80" y="626.90" font-size="13" font-weight="bold" text-anchor="middle">-4</text>
<text x="339.80" y="626.90" font-size="13" font-weight="bold" text-anchor="middle">-2</text>
<text x="399.80" y="626.90" font-size="13" font-weight="bold" text-anchor="middle">0</text>
<text x="459.80" y="626.90" font-size="13" font-weight="bold" text-anchor="middle">2</text>
<text x="519.80" y="626.90" font-size="13" font-weight="bold" text-anchor="middle">4</text>
<text x="270.70" y="610.10" font-size="13" font-weight="bold" text-anchor="end">0</text>
<text x="270.70" y="551.75" font-size="13" font-weight="bold" text-anchor="end">1</text>
<text x="270.70" y="493.40" font-size="13" font-weight="bold" text-anchor="end">2</text>
<text x="270.70" y="435.05" font-size="13" font-weight="bold" text-anchor="end">3</text>
<text x="270.70" y="376.70" font-size="13" font-weight="bold" text-anchor="end">4</text>
<text x="399.50" y="653.70" font-size="14.3" text-anchor="middle">Fold Change (Log2)</text>
<text transform="translate(241.80 487.90) rotate(-90)" font-size="14" text-anchor="middle">P-value (Log10)</text>
<text x="400.3" y="351.0" font-size="16.75" font-weight="bold" text-anchor="middle">non-PSC + IL-17A vs non-PSC</text>
<path d="M404.85 738.6V971.9" stroke="#000" stroke-width="1.8" stroke-dasharray="4.4 4.1" fill="none"/>
<path d="M285.6 870.80H524.1" stroke="#ee1c1c" stroke-width="2" stroke-dasharray="4.6 3.8" stroke-dashoffset="0.4" fill="none"/>
<g fill="#ee5818"><circle cx="428.2" cy="761.6" r="2.7"/><circle cx="422.2" cy="766.0" r="2.7"/><circle cx="422.2" cy="790.0" r="2.7"/><circle cx="428.4" cy="803.1" r="2.7"/><circle cx="418.5" cy="813.8" r="2.7"/><circle cx="420.9" cy="823.0" r="2.7"/><circle cx="428.0" cy="823.2" r="2.7"/><circle cx="421.6" cy="825.8" r="2.7"/><circle cx="423.8" cy="831.6" r="2.7"/><circle cx="432.1" cy="834.2" r="2.7"/><circle cx="415.5" cy="837.8" r="2.7"/><circle cx="421.7" cy="839.4" r="2.7"/><circle cx="442.3" cy="838.9" r="2.7"/><circle cx="417.3" cy="843.1" r="2.7"/><circle cx="419.8" cy="846.0" r="2.7"/><circle cx="422.5" cy="847.0" r="2.7"/><circle cx="427.7" cy="847.0" r="2.7"/><circle cx="425.1" cy="850.7" r="2.7"/><circle cx="416.7" cy="853.3" r="2.7"/><circle cx="420.9" cy="856.4" r="2.7"/><circle cx="417.8" cy="857.5" r="2.7"/><circle cx="415.7" cy="860.6" r="2.7"/><circle cx="423.0" cy="864.2" r="2.7"/><circle cx="419.8" cy="866.3" r="2.7"/><circle cx="415.1" cy="869.5" r="2.7"/><circle cx="418.3" cy="869.5" r="2.7"/><circle cx="440.2" cy="871.6" r="2.7"/><circle cx="476.0" cy="877.1" r="2.7"/><circle cx="420.9" cy="874.7" r="2.7"/><circle cx="420.9" cy="878.3" r="2.7"/><circle cx="415.7" cy="879.9" r="2.7"/><circle cx="417.2" cy="883.6" r="2.7"/><circle cx="418.3" cy="888.8" r="2.7"/><circle cx="414.1" cy="889.8" r="2.7"/><circle cx="430.3" cy="889.5" r="2.7"/><circle cx="408.4" cy="896.1" r="2.7"/><circle cx="415.1" cy="893.5" r="2.7"/><circle cx="414.6" cy="897.7" r="2.7"/><circle cx="431.9" cy="896.6" r="2.7"/><circle cx="430.3" cy="899.2" r="2.7"/><circle cx="410.4" cy="902.9" r="2.7"/><circle cx="419.3" cy="902.9" r="2.7"/><circle cx="415.7" cy="906.0" r="2.7"/><circle cx="423.0" cy="907.6" r="2.7"/><circle cx="441.3" cy="906.3" r="2.7"/><circle cx="432.6" cy="909.7" r="2.7"/><circle cx="412.5" cy="912.3" r="2.7"/><circle cx="417.8" cy="912.3" r="2.7"/><circle cx="421.4" cy="913.3" r="2.7"/><circle cx="414.6" cy="907.3" r="2.7"/><circle cx="411.5" cy="917.8" r="2.7"/><circle cx="421.9" cy="919.8" r="2.7"/><circle cx="411.5" cy="923.0" r="2.7"/><circle cx="416.7" cy="923.0" r="2.7"/><circle cx="421.9" cy="925.1" r="2.7"/><circle cx="409.9" cy="928.2" r="2.7"/><circle cx="413.6" cy="931.3" r="2.7"/><circle cx="422.5" cy="933.2" r="2.7"/><circle cx="426.9" cy="935.5" r="2.7"/><circle cx="437.4" cy="936.6" r="2.7"/><circle cx="417.2" cy="934.5" r="2.7"/><circle cx="409.4" cy="938.6" r="2.7"/><circle cx="414.6" cy="937.6" r="2.7"/><circle cx="431.0" cy="940.0" r="2.7"/><circle cx="412.5" cy="942.8" r="2.7"/><circle cx="417.8" cy="942.8" r="2.7"/><circle cx="425.8" cy="943.9" r="2.7"/><circle cx="408.4" cy="947.0" r="2.7"/><circle cx="414.6" cy="947.0" r="2.7"/><circle cx="419.8" cy="948.6" r="2.7"/><circle cx="409.4" cy="952.2" r="2.7"/><circle cx="421.4" cy="954.5" r="2.7"/><circle cx="412.5" cy="956.4" r="2.7"/><circle cx="408.4" cy="958.5" r="2.7"/><circle cx="410.4" cy="962.7" r="2.7"/><circle cx="407.8" cy="965.8" r="2.7"/><circle cx="406.3" cy="969.5" r="2.7"/><circle cx="405.2" cy="972.1" r="2.7"/><circle cx="420.9" cy="848.6" r="2.7"/><circle cx="418.3" cy="854.8" r="2.7"/><circle cx="421.9" cy="858.0" r="2.7"/><circle cx="419.8" cy="860.1" r="2.7"/><circle cx="416.7" cy="876.8" r="2.7"/><circle cx="419.3" cy="881.0" r="2.7"/><circle cx="415.7" cy="886.2" r="2.7"/><circle cx="423.5" cy="843.5" r="2.7"/><circle cx="417.5" cy="850.0" r="2.7"/><circle cx="422.8" cy="870.5" r="2.7"/><circle cx="410.8" cy="904.5" r="2.7"/><circle cx="416.6" cy="905.0" r="2.7"/><circle cx="418.6" cy="904.1" r="2.7"/><circle cx="414.4" cy="909.1" r="2.7"/><circle cx="419.1" cy="909.3" r="2.7"/><circle cx="421.4" cy="909.4" r="2.7"/><circle cx="411.5" cy="912.0" r="2.7"/><circle cx="415.3" cy="912.0" r="2.7"/><circle cx="419.4" cy="911.1" r="2.7"/><circle cx="410.6" cy="916.4" r="2.7"/><circle cx="413.7" cy="916.6" r="2.7"/><circle cx="416.8" cy="916.4" r="2.7"/><circle cx="410.7" cy="919.5" r="2.7"/><circle cx="415.9" cy="919.3" r="2.7"/><circle cx="418.9" cy="919.6" r="2.7"/><circle cx="412.3" cy="923.8" r="2.7"/><circle cx="419.1" cy="923.0" r="2.7"/><circle cx="412.2" cy="928.0" r="2.7"/><circle cx="416.0" cy="926.1" r="2.7"/><circle cx="413.1" cy="931.4" r="2.7"/><circle cx="411.6" cy="934.8" r="2.7"/><circle cx="415.3" cy="935.2" r="2.7"/><circle cx="412.3" cy="938.6" r="2.7"/><circle cx="410.0" cy="943.4" r="2.7"/><circle cx="414.6" cy="941.4" r="2.7"/><circle cx="408.8" cy="946.6" r="2.7"/><circle cx="412.1" cy="945.2" r="2.7"/><circle cx="407.5" cy="948.8" r="2.7"/><circle cx="410.0" cy="949.4" r="2.7"/><circle cx="409.4" cy="952.7" r="2.7"/><circle cx="412.8" cy="952.5" r="2.7"/><circle cx="411.6" cy="955.5" r="2.7"/><circle cx="409.0" cy="959.6" r="2.7"/></g>
<g fill="#1a3ddc"><circle cx="374.8" cy="779.4" r="2.7"/><circle cx="381.0" cy="796.3" r="2.7"/><circle cx="367.4" cy="807.4" r="2.7"/><circle cx="365.4" cy="810.2" r="2.7"/><circle cx="384.6" cy="807.4" r="2.7"/><circle cx="358.5" cy="829.8" r="2.7"/><circle cx="388.3" cy="830.6" r="2.7"/><circle cx="373.0" cy="838.9" r="2.7"/><circle cx="379.2" cy="841.9" r="2.7"/><circle cx="389.6" cy="845.0" r="2.7"/><circle cx="384.9" cy="846.8" r="2.7"/><circle cx="381.3" cy="846.2" r="2.7"/><circle cx="366.6" cy="849.9" r="2.7"/><circle cx="375.0" cy="848.3" r="2.7"/><circle cx="386.0" cy="849.4" r="2.7"/><circle cx="378.1" cy="852.5" r="2.7"/><circle cx="383.9" cy="852.0" r="2.7"/><circle cx="368.7" cy="856.7" r="2.7"/><circle cx="375.0" cy="856.7" r="2.7"/><circle cx="386.0" cy="856.7" r="2.7"/><circle cx="370.8" cy="860.9" r="2.7"/><circle cx="374.5" cy="862.5" r="2.7"/><circle cx="382.8" cy="863.8" r="2.7"/><circle cx="392.7" cy="861.9" r="2.7"/><circle cx="394.1" cy="867.2" r="2.7"/><circle cx="375.0" cy="869.8" r="2.7"/><circle cx="382.8" cy="871.3" r="2.7"/><circle cx="387.5" cy="869.8" r="2.7"/><circle cx="375.5" cy="874.5" r="2.7"/><circle cx="381.3" cy="874.5" r="2.7"/><circle cx="388.6" cy="876.0" r="2.7"/><circle cx="378.6" cy="879.7" r="2.7"/><circle cx="383.9" cy="878.6" r="2.7"/><circle cx="378.6" cy="883.9" r="2.7"/><circle cx="384.9" cy="883.9" r="2.7"/><circle cx="390.1" cy="886.0" r="2.7"/><circle cx="377.6" cy="890.7" r="2.7"/><circle cx="382.8" cy="889.1" r="2.7"/><circle cx="388.0" cy="889.1" r="2.7"/><circle cx="392.2" cy="891.2" r="2.7"/><circle cx="395.4" cy="893.3" r="2.7"/><circle cx="383.9" cy="894.3" r="2.7"/><circle cx="390.1" cy="894.3" r="2.7"/><circle cx="373.9" cy="900.1" r="2.7"/><circle cx="379.7" cy="898.5" r="2.7"/><circle cx="384.9" cy="899.5" r="2.7"/><circle cx="390.1" cy="900.6" r="2.7"/><circle cx="396.4" cy="898.5" r="2.7"/><circle cx="381.8" cy="903.7" r="2.7"/><circle cx="388.0" cy="904.8" r="2.7"/><circle cx="379.7" cy="910.0" r="2.7"/><circle cx="386.0" cy="907.9" r="2.7"/><circle cx="391.2" cy="906.8" r="2.7"/><circle cx="396.4" cy="907.9" r="2.7"/><circle cx="383.9" cy="914.2" r="2.7"/><circle cx="388.0" cy="913.1" r="2.7"/><circle cx="376.6" cy="914.7" r="2.7"/><circle cx="371.3" cy="916.8" r="2.7"/><circle cx="369.2" cy="918.3" r="2.7"/><circle cx="393.3" cy="915.2" r="2.7"/><circle cx="394.3" cy="918.3" r="2.7"/><circle cx="389.1" cy="918.3" r="2.7"/><circle cx="353.4" cy="923.8" r="2.7"/><circle cx="365.6" cy="935.5" r="2.7"/><circle cx="391.2" cy="956.2" r="2.7"/><circle cx="389.1" cy="941.6" r="2.7"/><circle cx="401" cy="955" r="2.7"/><circle cx="403" cy="960" r="2.7"/><circle cx="402" cy="965" r="2.7"/><circle cx="404" cy="969" r="2.7"/><circle cx="404.8" cy="972" r="2.7"/><circle cx="399" cy="958" r="2.7"/><circle cx="400.5" cy="962" r="2.7"/><circle cx="398" cy="952" r="2.7"/><circle cx="388.1" cy="909.0" r="2.7"/><circle cx="391.5" cy="907.5" r="2.7"/><circle cx="385.7" cy="911.0" r="2.7"/><circle cx="389.9" cy="912.4" r="2.7"/><circle cx="392.6" cy="912.3" r="2.7"/><circle cx="388.1" cy="913.4" r="2.7"/><circle cx="389.9" cy="913.3" r="2.7"/><circle cx="394.3" cy="915.2" r="2.7"/><circle cx="386.2" cy="917.0" r="2.7"/><circle cx="390.0" cy="917.1" r="2.7"/><circle cx="392.5" cy="916.4" r="2.7"/><circle cx="384.4" cy="921.6" r="2.7"/><circle cx="387.8" cy="920.1" r="2.7"/><circle cx="389.7" cy="921.5" r="2.7"/><circle cx="395.5" cy="919.8" r="2.7"/><circle cx="386.1" cy="923.9" r="2.7"/><circle cx="389.5" cy="923.1" r="2.7"/><circle cx="391.6" cy="922.5" r="2.7"/><circle cx="395.8" cy="924.1" r="2.7"/><circle cx="388.0" cy="927.5" r="2.7"/><circle cx="391.7" cy="927.8" r="2.7"/><circle cx="393.2" cy="927.2" r="2.7"/><circle cx="397.6" cy="926.6" r="2.7"/><circle cx="388.6" cy="930.2" r="2.7"/><circle cx="393.1" cy="929.6" r="2.7"/><circle cx="395.1" cy="929.2" r="2.7"/><circle cx="389.8" cy="932.7" r="2.7"/><circle cx="395.0" cy="933.2" r="2.7"/><circle cx="398.0" cy="934.0" r="2.7"/><circle cx="393.2" cy="935.9" r="2.7"/><circle cx="395.6" cy="936.3" r="2.7"/><circle cx="399.8" cy="935.3" r="2.7"/><circle cx="391.7" cy="940.5" r="2.7"/><circle cx="394.8" cy="939.1" r="2.7"/><circle cx="397.5" cy="938.4" r="2.7"/><circle cx="393.3" cy="942.9" r="2.7"/><circle cx="396.3" cy="943.3" r="2.7"/><circle cx="399.2" cy="941.6" r="2.7"/><circle cx="394.3" cy="945.5" r="2.7"/><circle cx="397.9" cy="945.8" r="2.7"/><circle cx="393.0" cy="949.8" r="2.7"/><circle cx="396.5" cy="948.5" r="2.7"/><circle cx="398.7" cy="948.5" r="2.7"/><circle cx="395.5" cy="951.6" r="2.7"/><circle cx="398.0" cy="952.9" r="2.7"/><circle cx="401.8" cy="951.8" r="2.7"/><circle cx="395.4" cy="955.8" r="2.7"/><circle cx="400.8" cy="954.0" r="2.7"/><circle cx="399.2" cy="958.4" r="2.7"/><circle cx="402.3" cy="957.7" r="2.7"/><circle cx="401.0" cy="960.8" r="2.7"/><circle cx="401.0" cy="964.2" r="2.7"/><circle cx="377.1" cy="871.4" r="2.7"/><circle cx="381.2" cy="871.6" r="2.7"/><circle cx="387.0" cy="873.5" r="2.7"/><circle cx="390.5" cy="873.7" r="2.7"/><circle cx="379.4" cy="876.5" r="2.7"/><circle cx="385.0" cy="875.4" r="2.7"/><circle cx="388.5" cy="877.5" r="2.7"/><circle cx="381.1" cy="882.0" r="2.7"/><circle cx="384.9" cy="881.4" r="2.7"/><circle cx="391.7" cy="881.7" r="2.7"/><circle cx="378.4" cy="886.0" r="2.7"/><circle cx="383.2" cy="885.5" r="2.7"/><circle cx="389.5" cy="883.8" r="2.7"/><circle cx="393.4" cy="886.0" r="2.7"/><circle cx="376.5" cy="888.4" r="2.7"/><circle cx="380.5" cy="889.6" r="2.7"/><circle cx="385.1" cy="889.1" r="2.7"/><circle cx="391.0" cy="888.9" r="2.7"/><circle cx="378.3" cy="894.2" r="2.7"/><circle cx="383.8" cy="892.3" r="2.7"/><circle cx="386.9" cy="893.7" r="2.7"/><circle cx="392.7" cy="892.8" r="2.7"/><circle cx="381.9" cy="896.5" r="2.7"/><circle cx="384.7" cy="898.6" r="2.7"/><circle cx="392.0" cy="895.7" r="2.7"/><circle cx="380.2" cy="901.5" r="2.7"/><circle cx="383.3" cy="900.3" r="2.7"/><circle cx="387.7" cy="900.2" r="2.7"/><circle cx="392.0" cy="900.4" r="2.7"/><circle cx="382.1" cy="906.7" r="2.7"/><circle cx="386.9" cy="904.1" r="2.7"/><circle cx="392.1" cy="904.2" r="2.7"/><circle cx="384.0" cy="908.8" r="2.7"/><circle cx="388.5" cy="908.9" r="2.7"/><circle cx="392.2" cy="909.0" r="2.7"/></g>
<rect x="285.6" y="738.6" width="238.5" height="233.29999999999995" fill="none" stroke="#000" stroke-width="1.7"/>
<path d="M285.60 971.9v6.8 M345.23 971.9v6.8 M404.85 971.9v6.8 M464.48 971.9v6.8 M524.10 971.9v6.8 M285.6 971.90h-6.8 M285.6 894.13h-6.8 M285.6 816.37h-6.8 M285.6 738.60h-6.8" stroke="#000" stroke-width="1.7" fill="none"/>
<text x="285.60" y="993.10" font-size="13" font-weight="bold" text-anchor="middle">-4</text>
<text x="345.23" y="993.10" font-size="13" font-weight="bold" text-anchor="middle">-2</text>
<text x="404.85" y="993.10" font-size="13" font-weight="bold" text-anchor="middle">0</text>
<text x="464.48" y="993.10" font-size="13" font-weight="bold" text-anchor="middle">2</text>
<text x="524.10" y="993.10" font-size="13" font-weight="bold" text-anchor="middle">4</text>
<text x="276.50" y="976.30" font-size="13" font-weight="bold" text-anchor="end">0</text>
<text x="276.50" y="898.53" font-size="13" font-weight="bold" text-anchor="end">1</text>
<text x="276.50" y="820.77" font-size="13" font-weight="bold" text-anchor="end">2</text>
<text x="276.50" y="743.00" font-size="13" font-weight="bold" text-anchor="end">3</text>
<text x="404.90" y="1020.20" font-size="14.1" text-anchor="middle">Fold Change (Log2)</text>
<text transform="translate(247.20 853.95) rotate(-90)" font-size="14" text-anchor="middle">P-value (Log10)</text>
<text x="405.0" y="716.4" font-size="16.6" font-weight="bold" text-anchor="middle">PSC + IL-17A vs non-PSC + IL-17A</text>
</svg>
</body></html>
